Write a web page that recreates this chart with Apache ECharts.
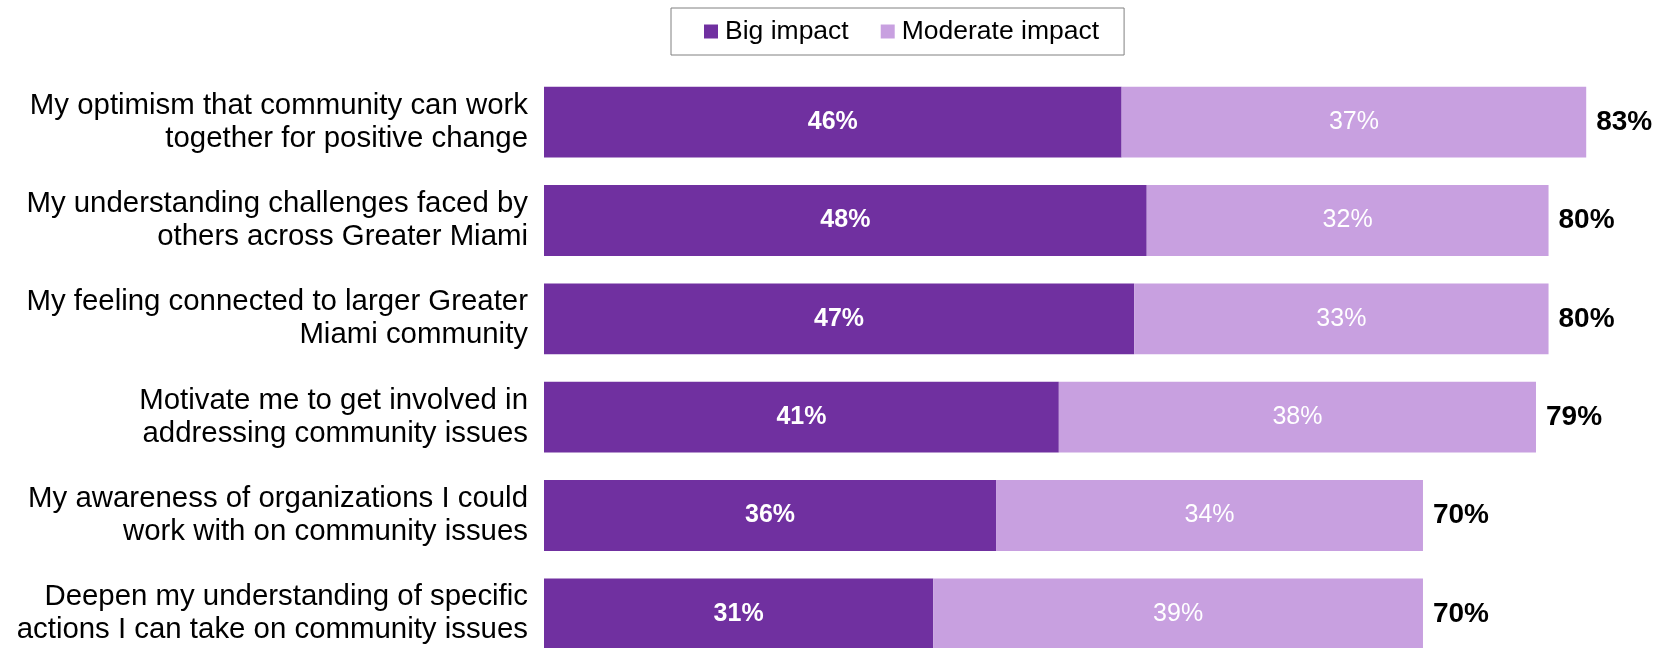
<!DOCTYPE html>
<html>
<head>
<meta charset="utf-8">
<script src="https://cdn.jsdelivr.net/npm/echarts@6/dist/echarts.min.js"></script>
<style>
  html, body { margin: 0; padding: 0; background: #ffffff; }
  #chart { width: 1657px; height: 648px; }
</style>
</head>
<body>
<div id="chart"></div>
<script>
// Survey items (top to bottom)
const categories = [
  'My optimism that community can work\ntogether for positive change',
  'My understanding challenges faced by\nothers across Greater Miami',
  'My feeling connected to larger Greater\nMiami community',
  'Motivate me to get involved in\naddressing community issues',
  'My awareness of organizations I could\nwork with on community issues',
  'Deepen my understanding of specific\nactions I can take on community issues'
];
const bigImpact = [46, 48, 47, 41, 36, 31];
const moderateImpact = [37, 32, 33, 38, 34, 39];
const seriesNames = ['Big impact', 'Moderate impact'];

// Combined share shown at the end of each bar
const totals = bigImpact.map((v, i) => v + moderateImpact[i]);

const FONT = "'Liberation Sans', Arial, sans-serif";
const DARK = '#7030A0';
const LIGHT = '#C8A0E0';

const chart = echarts.init(document.getElementById('chart'));
chart.setOption({
  animation: false,
  textStyle: { fontFamily: FONT },
  legend: {
    data: seriesNames,
    left: 671,
    top: 8,
    padding: [10, 25, 10, 33],
    icon: 'rect',
    itemWidth: 14,
    itemHeight: 14,
    itemGap: 32,
    borderColor: '#808080',
    borderWidth: 1,
    textStyle: { fontFamily: FONT, fontSize: 26.5, color: '#000', padding: [0, 0, 0, 2] }
  },
  grid: {
    left: 544, width: 1105, top: 73, height: 590,
    containLabel: false,
    outerBoundsMode: 'none'
  },
  xAxis: {
    type: 'value',
    min: 0,
    max: 88,
    show: false
  },
  yAxis: {
    type: 'category',
    data: categories,
    inverse: true,
    axisLine: { show: false },
    axisTick: { show: false },
    axisLabel: {
      fontFamily: FONT,
      fontSize: 29.4,
      lineHeight: 33,
      color: '#000',
      margin: 16,
      align: 'right'
    }
  },
  series: [
    {
      name: seriesNames[0],
      type: 'bar',
      stack: 'impact',
      data: bigImpact,
      barCategoryGap: '28%',
      itemStyle: { color: DARK },
      label: {
        show: true,
        position: 'inside',
        formatter: '{c}%',
        color: '#fff',
        fontWeight: 'bold',
        fontSize: 25,
        fontFamily: FONT
      }
    },
    {
      name: seriesNames[1],
      type: 'bar',
      stack: 'impact',
      data: moderateImpact,
      itemStyle: { color: LIGHT },
      label: {
        show: true,
        position: 'inside',
        formatter: '{c}%',
        color: '#fff',
        fontSize: 25,
        fontFamily: FONT
      }
    },
    {
      name: 'Total',
      type: 'bar',
      data: totals,
      barGap: '-100%',
      itemStyle: { color: 'rgba(0,0,0,0)' },
      silent: true,
      label: {
        show: true,
        position: 'right',
        distance: 10,
        formatter: '{c}%',
        color: '#000',
        fontWeight: 'bold',
        fontSize: 28,
        fontFamily: FONT
      }
    }
  ]
});
</script>
</body>
</html>
